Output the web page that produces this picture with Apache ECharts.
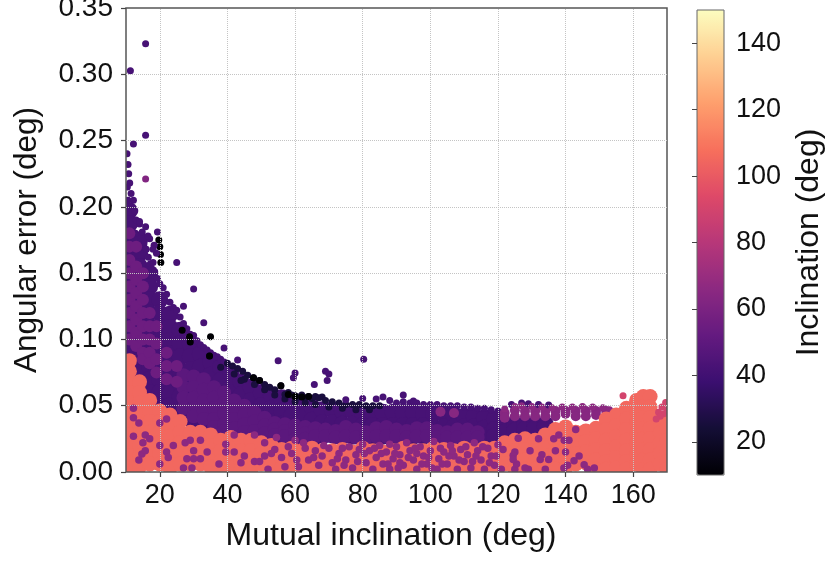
<!DOCTYPE html>
<html>
<head>
<meta charset="utf-8">
<style>html,body{margin:0;background:#fff}#chart{width:827px;height:563px}</style>
<script src="https://cdn.jsdelivr.net/npm/echarts@6/dist/echarts.min.js"></script>
</head>
<body>
<div id="chart"></div>
<script>
const xTicks = [20, 40, 60, 80, 100, 120, 140, 160]
const yTicks = [0, 0.05, 0.1, 0.15, 0.2, 0.25, 0.3, 0.35]
const colorTicks = [20, 40, 60, 80, 100, 120, 140]
const magma = ['#000004', '#140e36', '#3b0f70', '#641a80', '#8c2981', '#b73779', '#de4968', '#f7705c', '#fe9f6d', '#fecf92', '#fcfdbf']

// dense regions, one row per x: [x, y, y, ...]
const deepColumns = [
  [11, .197, .187, .177, .167, .157, .147, .137, .127, .117, .107, .097, .087],
  [14, .175, .165, .155, .145, .135, .125, .115, .105, .095, .085, .075],
  [17, .15, .14, .13, .12, .11, .10, .09, .08, .07, .06],
  [20, .13, .12, .11, .10, .09, .08, .07, .06, .05],
  [23, .119, .109, .099, .089, .079, .069, .059, .05],
  [26, .107, .097, .087, .077, .067, .057, .047, .04],
  [29, .097, .087, .077, .067, .057, .047, .04],
  [32, .089, .079, .069, .059, .049, .04, .033],
  [35, .083, .073, .063, .053, .043, .035],
  [38, .079, .069, .059, .049, .039, .03],
  [41, .074, .064, .054, .044, .034, .028],
  [44, .068, .058, .048, .038, .028],
  [47, .064, .054, .044, .034, .025],
  [50, .06, .05, .04, .03, .024],
  [53, .058, .048, .038, .028],
  [56, .056, .046, .036, .027],
  [59, .052, .042, .032, .026],
  [62, .051, .041, .031, .024],
  [65, .049, .039, .03, .024],
  [68, .047, .037, .028],
  [71, .047, .037, .028],
  [74, .046, .036, .027],
  [77, .046, .036, .027],
  [80, .045, .035, .027],
  [83, .045, .035, .027],
  [86, .045, .035, .027],
  [89, .045, .035, .027],
  [92, .045, .035, .027],
  [95, .045, .035, .027],
  [98, .044, .035, .027],
  [101, .044, .034, .027],
  [104, .044, .034, .027],
  [107, .043, .034, .027],
  [110, .042, .034, .027],
  [113, .042, .034, .027],
  [116, .041, .033, .027],
  [119, .04, .032, .027],
  [122, .036, .03],
  [125, .036, .031],
  [128, .036, .032],
  [131, .036, .033],
  [134, .036, .034]
]
const midColumns = [
  [27, .073, .064, .056, .048],
  [30, .072, .064, .056, .048, .042],
  [33, .07, .062, .054, .046, .04],
  [36, .064, .056, .048, .04, .034],
  [39, .06, .052, .044, .036, .031],
  [42, .054, .047, .04, .033],
  [45, .05, .043, .036, .03],
  [48, .045, .038, .031],
  [51, .041, .035, .029],
  [54, .037, .032, .028],
  [57, .036, .031, .027],
  [60, .035, .03, .025],
  [63, .034, .029, .025],
  [66, .033, .027],
  [69, .032, .027],
  [72, .031, .026],
  [75, .034, .027],
  [78, .032, .026],
  [81, .03, .026],
  [84, .033, .027],
  [87, .034, .027],
  [90, .032, .027],
  [93, .031, .026],
  [96, .033, .027],
  [99, .033, .027],
  [102, .031, .026],
  [105, .03, .026],
  [108, .032, .026],
  [111, .032, .026],
  [114, .03, .026]
]
const leftColumns = [
  [11, .18, .17, .16, .15, .14, .13, .12, .11, .10],
  [13, .17, .155, .145, .135, .125, .115, .105, .095],
  [15, .15, .14, .13, .12, .11, .10, .09, .085],
  [17, .12, .11, .10, .09, .082],
  [19, .11, .097, .085, .075],
  [22, .09, .08, .07],
  [25, .08, .068]
]
const rightBandColumns = [
  [103, .0455],
  [107, .0445],
  [122, .0445, .041],
  [125, .0465, .042],
  [128, .046, .042],
  [131, .046, .042],
  [134, .046, .042],
  [137, .046, .042],
  [140, .046, .044],
  [143, .046, .042],
  [146, .046, .042],
  [149, .046, .043],
  [152, .046]
]
const orangeColumns = [
  [11, .084, .076, .068, .06, .052, .044, .036, .028, .02, .012, .004],
  [14, .068, .06, .052, .044, .036, .028, .02, .012, .004],
  [17, .054, .046, .038, .03, .022, .014, .006],
  [20, .046, .038, .03, .022, .014, .006],
  [23, .043, .035, .027, .019, .011, .003],
  [26, .038, .03, .022, .014, .006],
  [29, .03, .022, .014, .006],
  [32, .03, .022, .014, .006],
  [35, .028, .02, .012, .004],
  [38, .024, .016, .008, .002],
  [41, .026, .018, .01, .003],
  [44, .024, .016, .008, .002],
  [47, .024, .016, .008, .002],
  [50, .022, .014, .006],
  [53, .02, .012, .005],
  [56, .017, .01, .003],
  [59, .018, .01, .003],
  [62, .016, .009, .002],
  [65, .018, .01, .003],
  [68, .016, .008, .002],
  [71, .016, .009, .002],
  [74, .017, .009, .002],
  [77, .015, .008, .002],
  [80, .018, .01, .003],
  [83, .016, .009, .002],
  [86, .015, .008, .002],
  [89, .016, .009, .002],
  [92, .018, .01, .003],
  [95, .016, .009, .002],
  [98, .016, .008, .002],
  [101, .018, .01, .003],
  [104, .017, .009, .002],
  [107, .016, .008, .002],
  [110, .018, .01, .003],
  [113, .017, .009, .002],
  [116, .018, .01, .003],
  [119, .018, .01, .003],
  [122, .022, .014, .006],
  [125, .024, .016, .008, .002],
  [128, .025, .017, .009, .002],
  [131, .024, .016, .008, .002],
  [134, .028, .02, .012, .004],
  [137, .032, .024, .016, .008, .002],
  [140, .034, .026, .018, .01, .003],
  [143, .03, .022, .014, .006],
  [146, .031, .023, .015, .007],
  [149, .033, .025, .017, .009, .002],
  [152, .04, .032, .024, .016, .008, .002],
  [155, .043, .035, .027, .019, .011, .003],
  [158, .048, .04, .032, .024, .016, .008, .002],
  [161, .054, .046, .038, .03, .022, .014, .006],
  [163, .057, .049, .041, .033, .025, .017, .009, .002],
  [165, .057, .049, .041, .033, .025, .017, .009, .002],
  [168, .038, .03, .022, .014, .006],
  [170, .04, .032, .024, .016, .008, .002]
]

// edges and single dots, [x, y]
const topEdge = [
  [10.3, .24], [10.6, .232], [10.8, .225], [11.1, .218], [10.4, .215], [11.5, .21], [10.6, .205], [12.2, .205], [12.6, .197], [13, .19], [14, .187], [12.8, .18],
  [14.8, .181], [15.3, .172], [16, .168], [16.6, .162], [17.2, .157], [18, .158], [18.5, .151], [19.3, .146], [20, .142], [21, .139], [22, .134], [23, .128], [24, .124],
  [25, .122], [26, .117], [27, .112], [28, .108], [29, .104], [30, .103], [31, .099], [32, .096], [33, .094], [34, .092], [35, .09], [36, .088],
  [37, .087], [38, .085], [39, .083], [90, .052], [92, .053], [94, .052], [96, .052], [98, .051], [100, .051], [102, .051], [104, .05], [106, .05],
  [108, .05], [110, .049], [112, .049], [114, .048], [116, .048], [118, .047], [120, .046]
]
const darkEdge = [
  [40, .082], [41.5, .08], [43, .078], [44.5, .076], [46, .073], [47.7, .071], [49.5, .069], [51, .066], [52.5, .064], [54, .062], [55.8, .065],
  [57, .0585], [58, .06], [59, .058], [60, .0575], [61, .0565], [62, .058], [63, .056], [64, .057], [65, .0555], [66, .057], [67, .056], [68, .0565],
  [69, .054], [71, .053], [73, .052], [75, .051], [77, .051], [79, .051], [81, .05], [83, .05], [85, .05], [42, .074], [45, .07], [48, .066], [51, .062],
  [54, .058], [57, .055], [60, .053], [63, .052], [66, .051], [70, .049], [74, .048], [78, .047], [82, .047], [34.7, .0875], [44, .069], [38, .079]
]
const blackDots = [
  [26.6, .107], [28.8, .102], [29, .098], [35, .102], [34.7, .0875], [47.7, .071], [49.5, .069], [55.8, .065], [58, .0585], [60, .057],
  [62, .0565], [64, .057], [19.7, .175], [20.2, .164], [20, .17], [20.3, .158]
]
const outlierDots = [
  [15.8, .323], [11.3, .3026], [15.8, .254], [12.2, .2475], [14, .189], [15.8, .185], [19.3, .181], [25, .158], [30, .138], [27, .125], [33, .1125],
  [39, .0935], [43, .0845], [55, .084], [60, .0747], [59.5, .071], [69, .076], [70, .074], [69.5, .069], [65.7, .066], [80.3, .085], [86, .0565],
  [92, .058], [75, .0545], [80, .0555], [84, .055], [88, .054], [95, .0535], [17, .176], [18.3, .171], [19, .165], [16.5, .178], [18, .168],
  [124, .051], [127, .052], [129, .0515], [132, .051], [135, .0505]
]
const lightTopEdge = [
  [122, .0475], [125, .0495], [127, .05], [130, .0495], [133, .049], [136, .0485], [139, .049], [142, .049], [145, .0495], [148, .049], [151, .0485], [153, .047]
]
const pinkDots = [[157, .0575], [167.5, .045], [168.5, .049], [169.6, .0525], [169, .044], [168, .042], [170, .047], [166.8, .04]]
const lilacDots = [[15.8, .221]]
const sprinkleDots = [
  [12.2, .048], [12.2, .041], [13.8, .037], [12.2, .027], [15.7, .028], [15, .022], [14.7, .0135], [13.8, .009], [15.7, .016], [17, .025],
  [20, .02], [20, .037], [22, .04], [24, .02], [22, .015], [22.5, .011], [20, .006], [27.5, .022], [29, .024], [32, .024], [34, .015], [32, .01],
  [30, .016], [28, .01], [30, .01], [27, .003], [29.5, .003], [37.5, .006], [39.5, .021], [39.5, .015], [42, .015], [44, .007], [45, .012], [48, .008],
  [49.5, .008], [51, .012], [54, .017], [56, .011], [53, .014], [59, .014], [61, .004], [64, .009], [42, .028], [48, .028], [51, .022], [54.5, .026],
  [60, .024], [62.5, .022], [57, .004], [52, .002], [66, .016], [68, .012], [70, .018], [71, .007], [72, .002], [73, .014], [75, .009], [76, .019],
  [77, .003], [78, .013], [80, .021], [81, .007], [82, .016], [83, .002], [84, .011], [85, .02], [86, .006], [87, .015], [88, .002], [89, .01], [90, .019],
  [91, .013], [92, .005], [93, .022], [94, .016], [95, .009], [96, .002], [97, .019], [98, .012], [99, .006], [100, .016], [101, .023], [102, .002],
  [102.5, .01], [104, .015], [105, .006], [106, .02], [107, .012], [108, .002], [109, .017], [110, .008], [111, .013], [112, .003], [113, .022],
  [114, .016], [115, .009], [116, .002], [117, .018], [118, .012], [119, .005], [120, .0205], [121.5, .017], [125, .015], [124.5, .0125], [126, .0255],
  [129.5, .016], [132, .025], [133, .013], [132.5, .0095], [135, .0095], [136.5, .025], [138, .028], [137, .016], [139.6, .024], [141, .024], [140, .015],
  [143, .032], [144, .012], [142.5, .0085], [140.6, .005], [139.5, .003], [145.5, .0055], [146.5, .002], [148.5, .003], [134, .002], [129, .002], [128, .003],
  [125, .002], [121, .002], [125.5, .006], [124.5, .0095], [96, .014], [103, .018], [91, .007], [79, .017], [67, .005], [74, .018], [88, .021],
  [72.5, .01], [74.5, .005], [78.5, .008], [80.5, .014], [83.5, .018], [85.5, .014], [87.5, .006], [89.5, .014], [90.5, .003], [93.5, .011], [95.5, .018],
  [97.5, .006], [99.5, .011], [100.5, .003], [103.5, .006], [105.5, .012], [106.5, .016], [108.5, .009], [110.5, .019], [112.5, .008], [113.5, .012],
  [115.5, .019], [117.5, .007], [119.5, .012], [68.5, .02], [65.5, .011], [63, .018], [58, .019], [60.5, .009]
]

// [inclination, dot size, points], drawn in this order
const columnsToPoints = cols => cols.flatMap(c => c.slice(1).map(y => [c[0], y]))
const layers = [
  [42, 17, columnsToPoints(deepColumns)],
  [42, 7, topEdge],
  [49, 14, columnsToPoints(midColumns)],
  [55, 12, columnsToPoints(leftColumns)],
  [64, 10, columnsToPoints(rightBandColumns)],
  [26, 7, darkEdge],
  [10, 7, blackDots],
  [42, 7, outlierDots],
  [62, 7, lilacDots],
  [66, 7, lightTopEdge],
  [105, 15, columnsToPoints(orangeColumns)],
  [66, 7.5, sprinkleDots],
  [90, 7, pinkDots]
]

const labelFont = { color: '#111', fontSize: 27, fontFamily: 'Liberation Sans' }
const gridLine = { color: '#c4c4c4', type: 'dotted', width: 1 }

const series = layers.map(([inc, size, pts]) => ({
  type: 'scatter',
  xAxisIndex: 0,
  yAxisIndex: 0,
  symbolSize: size,
  itemStyle: { opacity: 1 },
  data: pts.map(p => [p[0], p[1], inc])
}))
// matplotlib draws the dotted grid over the dots
series.push({
  type: 'scatter',
  xAxisIndex: 0,
  yAxisIndex: 0,
  data: [],
  markLine: {
    silent: true,
    symbol: 'none',
    label: { show: false },
    animation: false,
    lineStyle: gridLine,
    data: [...xTicks.map(v => ({ xAxis: v })), ...yTicks.slice(1, -1).map(v => ({ yAxis: v }))]
  }
})

const myChart = echarts.init(document.getElementById('chart'))
myChart.setOption({
  animation: false,
  backgroundColor: '#fff',
  // scatter clip only drops points, it doesn't cut dots at the frame, so white strips hide the overhang
  graphic: [
    { type: 'rect', z: 3, silent: true, shape: { x: 100, y: 0, width: 26, height: 490 }, style: { fill: '#fff' } },
    { type: 'rect', z: 3, silent: true, shape: { x: 100, y: 472, width: 590, height: 18 }, style: { fill: '#fff' } },
    { type: 'rect', z: 3, silent: true, shape: { x: 667, y: 0, width: 23, height: 490 }, style: { fill: '#fff' } }
  ],
  grid: [
    { left: 126, top: 8, width: 541, height: 464, z: 4, outerBoundsMode: 'none', show: true, borderColor: '#555', borderWidth: 1.5, backgroundColor: 'transparent' },
    { left: 697, top: 10, width: 27, height: 465, z: 5, outerBoundsMode: 'none', show: true, borderColor: '#666', borderWidth: 1, backgroundColor: 'transparent' }
  ],
  xAxis: [
    {
      gridIndex: 0, type: 'value', min: 10, max: 170, z: 5,
      name: 'Mutual inclination (deg)', nameLocation: 'middle', nameGap: 48,
      nameTextStyle: { ...labelFont, fontSize: 32, padding: [0, 11, 0, 0] },
      splitLine: { show: false },
      axisLine: { show: false },
      axisTick: { length: 5, lineStyle: { color: '#444', width: 1.2 }, customValues: xTicks },
      axisLabel: { ...labelFont, margin: 10, customValues: xTicks }
    },
    { gridIndex: 1, type: 'value', min: 0, max: 1, show: false }
  ],
  yAxis: [
    {
      gridIndex: 0, type: 'value', min: 0, max: 0.35, interval: 0.05, z: 5,
      name: 'Angular error (deg)', nameLocation: 'middle', nameGap: 83, nameRotate: 90,
      nameTextStyle: { ...labelFont, fontSize: 31.5 },
      splitLine: { show: false },
      axisLine: { show: false },
      axisTick: { length: 5, lineStyle: { color: '#444', width: 1.2 } },
      axisLabel: { ...labelFont, fontSize: 28, margin: 13, formatter: v => v.toFixed(2) }
    },
    {
      gridIndex: 1, type: 'value', position: 'right', min: 10, max: 150, z: 5,
      name: 'Inclination (deg)', nameLocation: 'middle', nameGap: 69, nameRotate: 90,
      nameTextStyle: { ...labelFont, fontSize: 32 },
      splitLine: { show: false },
      axisLine: { show: false },
      axisTick: { inside: true, length: 5, lineStyle: { color: '#444' }, customValues: colorTicks },
      axisLabel: { ...labelFont, margin: 12, customValues: colorTicks }
    }
  ],
  visualMap: {
    type: 'continuous', dimension: 2, min: 10, max: 150,
    seriesIndex: layers.map((l, i) => i),
    inRange: { color: magma },
    calculable: false, text: null, showLabel: false,
    left: 697, top: 10, itemWidth: 27, itemHeight: 465, padding: 0
  },
  series: [...series, { type: 'scatter', xAxisIndex: 1, yAxisIndex: 1, data: [] }]
})
</script>
</body>
</html>
